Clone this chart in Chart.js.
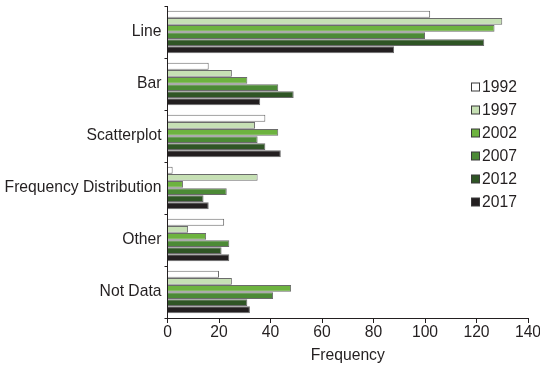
<!DOCTYPE html>
<html>
<head>
<meta charset="utf-8">
<script src="https://cdn.jsdelivr.net/npm/chart.js@4.4.1/dist/chart.umd.min.js"></script>
<style>
  html, body { margin: 0; padding: 0; background: #fff; }
  #wrap { width: 540px; height: 369px; position: relative; }
</style>
</head>
<body>
<div id="wrap"><canvas id="myChart"></canvas></div>
<script>
const categories = ['Line', 'Bar', 'Scatterplot', 'Frequency Distribution', 'Other', 'Not Data']
const years = ['1992', '1997', '2002', '2007', '2012', '2017']
const v1992 = [102, 16, 38, 2, 22, 20]
const v1997 = [130, 25, 34, 35, 8, 25]
const v2002 = [127, 31, 43, 6, 15, 48]
const v2007 = [100, 43, 35, 23, 24, 41]
const v2012 = [123, 49, 38, 14, 21, 31]
const v2017 = [88, 36, 44, 16, 24, 32]
const xTicks = [0, 20, 40, 60, 80, 100, 120, 140]

const colors = ['#ffffff', '#c6e0b4', '#6db33f', '#4c8a36', '#2f5525', '#231f20']
const values = [v1992, v1997, v2002, v2007, v2012, v2017]
const ink = '#231f20'
const fontSize = 15.7
Chart.defaults.font.family = '"Liberation Sans", Arial, sans-serif'
Chart.defaults.font.size = fontSize
Chart.defaults.color = ink

// legend drawn inside the plot, right side
const sideLegend = {
  id: 'sideLegend',
  afterDraw(chart) {
    const c = chart.ctx
    c.save()
    c.font = fontSize + 'px "Liberation Sans", Arial, sans-serif'
    c.textBaseline = 'middle'
    c.textAlign = 'left'
    years.forEach((y, i) => {
      const cy = 87 + i * 23
      c.fillStyle = colors[i]
      c.fillRect(471.5, cy - 4, 8, 8)
      c.strokeStyle = '#3a3a3a'
      c.lineWidth = 1
      c.strokeRect(471.5, cy - 4, 8, 8)
      c.fillStyle = ink
      c.fillText(y, 482, cy + 1)
    })
    c.restore()
  }
}

new Chart(document.getElementById('myChart'), {
  type: 'bar',
  data: {
    labels: categories,
    datasets: years.map((y, i) => ({
      label: y,
      data: values[i],
      backgroundColor: colors[i],
      borderColor: '#6b6b6b',
      borderWidth: 1,
      categoryPercentage: 0.82,
      barPercentage: 0.96
    }))
  },
  options: {
    indexAxis: 'y',
    responsive: true,
    maintainAspectRatio: false,
    animation: false,
    layout: { padding: { top: 6, right: 12, bottom: 0, left: 0 } },
    plugins: {
      legend: { display: false },
      tooltip: { enabled: false }
    },
    scales: {
      x: {
        min: 0,
        max: 140,
        afterBuildTicks: s => { s.ticks = xTicks.map(v => ({ value: v })) },
        grid: { drawOnChartArea: false, tickLength: 5, color: ink },
        border: { color: ink, width: 1 },
        ticks: { padding: 0, color: ink, maxRotation: 0 },
        title: { display: true, text: 'Frequency', color: ink, padding: { top: 0, bottom: 4 } },
        afterFit: s => { s.height = 51; s.paddingLeft = 0; s.paddingRight = 0 }
      },
      y: {
        grid: { drawOnChartArea: false, offset: true, tickLength: 3, color: ink },
        border: { color: ink, width: 1 },
        ticks: { padding: 3, color: ink },
        afterFit: s => { s.width = 167.5; s.paddingTop = 0; s.paddingBottom = 0 }
      }
    }
  },
  plugins: [sideLegend]
})
</script>
</body>
</html>
